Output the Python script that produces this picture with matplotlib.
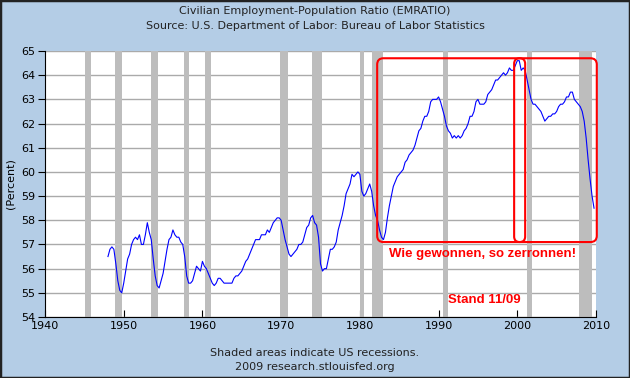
import matplotlib
matplotlib.use("Agg")
import matplotlib.pyplot as plt
from matplotlib.patches import FancyBboxPatch, Rectangle
import numpy as np

# quarterly values of the employment-population ratio, 1948Q1 .. 2009Q4
start_year = 1948
emratio = [
    56.5, 56.8, 56.9, 56.8,   # 1948
    56.2, 55.5, 55.1, 55.0,   # 1949
    55.4, 55.9, 56.4, 56.6,   # 1950
    57.0, 57.2, 57.3, 57.2,   # 1951
    57.4, 57.0, 57.0, 57.4,   # 1952
    57.9, 57.5, 57.2, 56.4,   # 1953
    55.7, 55.3, 55.2, 55.5,   # 1954
    55.8, 56.3, 56.8, 57.2,   # 1955
    57.3, 57.6, 57.4, 57.3,   # 1956
    57.3, 57.1, 57.0, 56.5,   # 1957
    55.7, 55.4, 55.4, 55.5,   # 1958
    55.8, 56.1, 56.0, 55.9,   # 1959
    56.3, 56.1, 56.0, 55.8,   # 1960
    55.6, 55.4, 55.3, 55.4,   # 1961
    55.6, 55.6, 55.5, 55.4,   # 1962
    55.4, 55.4, 55.4, 55.4,   # 1963
    55.6, 55.7, 55.7, 55.8,   # 1964
    55.9, 56.1, 56.3, 56.4,   # 1965
    56.6, 56.8, 57.0, 57.2,   # 1966
    57.2, 57.2, 57.4, 57.4,   # 1967
    57.4, 57.6, 57.5, 57.7,   # 1968
    57.9, 58.0, 58.1, 58.1,   # 1969
    58.0, 57.6, 57.2, 56.9,   # 1970
    56.6, 56.5, 56.6, 56.7,   # 1971
    56.8, 57.0, 57.0, 57.1,   # 1972
    57.4, 57.7, 57.8, 58.1,   # 1973
    58.2, 57.9, 57.8, 57.3,   # 1974
    56.2, 55.9, 56.0, 56.0,   # 1975
    56.4, 56.8, 56.8, 56.9,   # 1976
    57.1, 57.6, 57.9, 58.2,   # 1977
    58.6, 59.1, 59.3, 59.5,   # 1978
    59.9, 59.8, 59.9, 60.0,   # 1979
    59.9, 59.2, 59.0, 59.1,   # 1980
    59.3, 59.5, 59.2, 58.6,   # 1981
    58.2, 58.0, 57.6, 57.3,   # 1982
    57.2, 57.5, 58.1, 58.6,   # 1983
    59.0, 59.4, 59.6, 59.8,   # 1984
    59.9, 60.0, 60.1, 60.4,   # 1985
    60.5, 60.7, 60.8, 60.9,   # 1986
    61.1, 61.4, 61.7, 61.8,   # 1987
    62.1, 62.3, 62.3, 62.5,   # 1988
    62.9, 63.0, 63.0, 63.0,   # 1989
    63.1, 62.9, 62.6, 62.3,   # 1990
    61.9, 61.7, 61.6, 61.4,   # 1991
    61.5, 61.4, 61.5, 61.4,   # 1992
    61.5, 61.7, 61.8, 62.0,   # 1993
    62.3, 62.3, 62.5, 62.9,   # 1994
    63.0, 62.8, 62.8, 62.8,   # 1995
    62.9, 63.2, 63.3, 63.4,   # 1996
    63.6, 63.8, 63.8, 63.9,   # 1997
    64.0, 64.1, 64.0, 64.1,   # 1998
    64.3, 64.2, 64.2, 64.4,   # 1999
    64.6, 64.6, 64.2, 64.3,   # 2000
    64.2, 63.8, 63.4, 63.0,   # 2001
    62.8, 62.8, 62.7, 62.6,   # 2002
    62.5, 62.3, 62.1, 62.2,   # 2003
    62.3, 62.3, 62.4, 62.4,   # 2004
    62.5, 62.7, 62.8, 62.8,   # 2005
    62.9, 63.1, 63.1, 63.3,   # 2006
    63.3, 63.0, 62.9, 62.8,   # 2007
    62.7, 62.5, 62.1, 61.4,   # 2008
    60.5, 59.7, 59.0, 58.5,   # 2009
]

# NBER recessions (start, end) in fractional years
rec_start = [1945.1, 1948.9, 1953.5, 1957.6, 1960.3, 1969.9, 1973.9, 1980.0, 1981.5, 1990.5, 2001.2, 2007.9]
rec_end = [1945.8, 1949.8, 1954.4, 1958.3, 1961.1, 1970.9, 1975.2, 1980.5, 1982.9, 1991.2, 2001.9, 2009.5]

bg = '#b4cde6'
fig = plt.figure(figsize=(6.3, 3.78), dpi=100, facecolor=bg)
fig.patches.append(Rectangle((0, 0), 1, 1, transform=fig.transFigure,
                             fill=False, edgecolor='#222222', linewidth=2.5))

ax = fig.add_axes([45/630, 1-317/378, 551/630, 266/378])
ax.set_facecolor('white')

for a, b in zip(rec_start, rec_end):
    ax.axvspan(a, b, color='#bdbdbd', lw=0, zorder=1)

ax.set_xlim(1940, 2010)
ax.set_ylim(54, 65)
ax.set_yticks(range(54, 66))
ax.set_xticks(range(1940, 2011, 10))
ax.grid(axis='y', color='#aaaaaa', lw=1, zorder=0)
ax.set_axisbelow(True)

x = start_year + np.arange(len(emratio)) / 4.0
ax.plot(x, emratio, color='#0000ff', lw=0.8, zorder=3)

for s in ['top', 'right']:
    ax.spines[s].set_visible(False)
ax.tick_params(axis='x', direction='in', length=5, labelsize=8, pad=3)
ax.tick_params(axis='y', direction='out', length=5, labelsize=8, pad=2)
ax.set_ylabel('(Percent)', fontsize=8, labelpad=4)

# red annotation boxes
asp = (11/266) / (70/551)
big = FancyBboxPatch((1982.2, 57.1), 2010.1-1982.2, 64.7-57.1,
                     boxstyle='round,pad=0,rounding_size=0.8', mutation_aspect=asp,
                     fill=False, edgecolor='red', lw=1.5, zorder=4, clip_on=False)
ax.add_patch(big)
narrow = FancyBboxPatch((1999.6, 57.1), 1.4, 64.7-57.1,
                        boxstyle='round,pad=0,rounding_size=0.7', mutation_aspect=asp,
                        fill=False, edgecolor='red', lw=1.5, zorder=4, clip_on=False)
ax.add_patch(narrow)

ax.text(1995.6, 56.6, 'Wie gewonnen, so zerronnen!', color='red', fontweight='bold',
        fontsize=9.5, family='Liberation Sans', ha='center', va='center', zorder=5)
ax.text(1995.8, 54.72, 'Stand 11/09', color='red', fontweight='bold',
        fontsize=9.5, family='Liberation Sans', ha='center', va='center', zorder=5)

fig.text(0.5, 1-11/378, 'Civilian Employment-Population Ratio (EMRATIO)',
         ha='center', va='center', fontsize=8, color='#222222')
fig.text(0.5, 1-26/378, 'Source: U.S. Department of Labor: Bureau of Labor Statistics',
         ha='center', va='center', fontsize=8, color='#222222')
fig.text(0.5, 1-353/378, 'Shaded areas indicate US recessions.',
         ha='center', va='center', fontsize=8, color='#222222')
fig.text(0.5, 1-367/378, '2009 research.stlouisfed.org',
         ha='center', va='center', fontsize=8, color='#222222')

fig.savefig('out.png', dpi=100, facecolor=bg)
